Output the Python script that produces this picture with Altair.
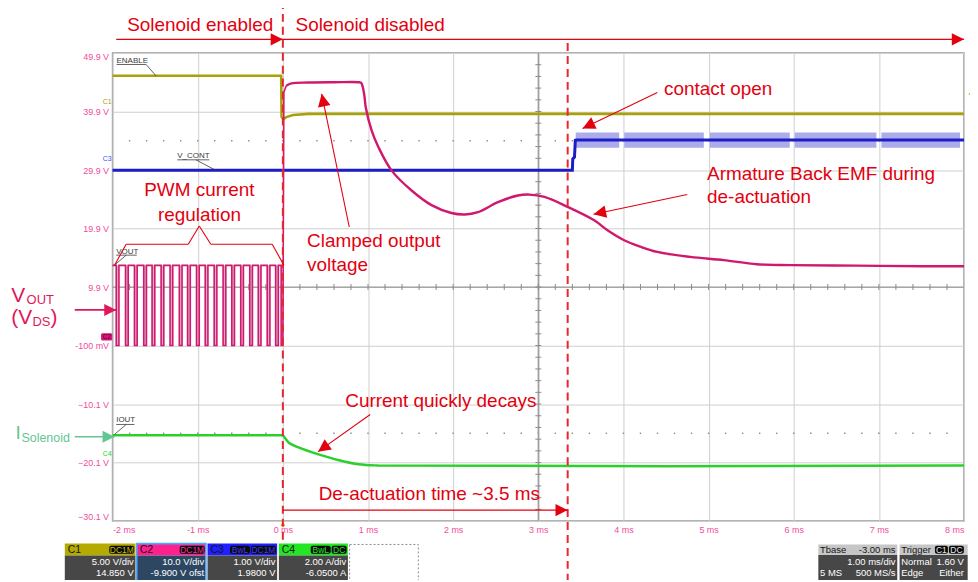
import math
import altair as alt
import pandas as pd

# ---------------- values ----------------
x_tick_values = [-2, -1, 0, 1, 2, 3, 4, 5, 6, 7, 8]
y_tick_values = [-30.1, -20.1, -10.1, -0.1, 9.9, 19.9, 29.9, 39.9, 49.9]

# C1 ENABLE
enable_t = [-2.0, -0.02, -0.015, 0.005, 0.04, 0.12, 0.3, 8.0]
enable_v = [46.0, 46.0, 39.0, 38.6, 38.95, 39.3, 39.5, 39.5]

# C2 VOUT : PWM falling edges (ms) before turn-off
pwm_fall_t = [-1.957, -1.848, -1.743, -1.634, -1.536, -1.430, -1.325, -1.216,
              -1.119, -1.014, -0.912, -0.807, -0.702, -0.600, -0.495, -0.389,
              -0.289, -0.184, -0.085]
pwm_low_ms = 0.032
pwm_high_v = 13.6
pwm_low_v = -0.1
turnoff_fall_t = -0.02

# C2 VOUT after turn-off (clamp + armature back EMF)
vout_t = [0.0, 0.012, 0.04, 0.1, 0.3, 0.6, 0.9, 0.92, 0.94, 0.96, 0.974, 1.044, 1.123,
          1.278, 1.512, 1.746, 1.98, 2.137, 2.292, 2.526, 2.76, 2.897, 3.072, 3.345,
          3.657, 3.813, 4.008, 4.199, 4.398, 4.784, 5.178, 5.567, 5.953, 6.737, 7.517, 8.0]
vout_v = [-0.1, 43.2, 44.3, 44.7, 44.85, 44.9, 44.9, 44.8, 44.0, 42.3, 40.6, 36.6, 33.8,
          29.8, 26.4, 23.9, 22.55, 22.3, 22.7, 24.4, 25.55, 25.7, 25.3, 23.6,
          21.3, 19.6, 17.9, 16.8, 15.9, 15.05, 14.5, 13.8, 13.65, 13.55, 13.45, 13.45]

# C3 V_CONT
vcont_t = [-2.0, 3.40, 3.405, 3.425, 3.435, 3.45, 8.0]
vcont_v = [29.85, 29.85, 31.8, 32.1, 35.0, 35.05, 35.05]
vcont_band_start = [3.44, 4.01, 5.015, 6.012, 7.03]
vcont_band_end = [3.95, 4.944, 5.953, 6.971, 7.953]
vcont_band_lo = 33.7
vcont_band_hi = 36.3

# C4 IOUT
iout_t = [-2.0, 0.0, 0.03, 0.07, 0.19, 0.42, 0.66, 0.89, 1.12, 8.0]
iout_v = [-15.45, -15.45, -16.0, -16.7, -17.55, -18.7, -19.7, -20.4, -20.6, -20.6]

# scope info boxes
chan_names = ["C1", "C2", "C3", "C4"]
chan_vdiv = ["5.00 V/div", "10.0 V/div", "1.00 V/div", "2.00 A/div"]
chan_offset = ["14.850 V", "-9.900 V ofst", "1.9800 V", "-6.0500 A"]
chan_badges = [["DC1M"], ["DC1M"], ["BwL", "DC1M"], ["BwL", "DC"]]
tbase_header = ["Tbase", "-3.00 ms"]
tbase_lines = [["", "1.00 ms/div"], ["5 MS", "500 MS/s"]]
trigger_title = "Trigger"
trigger_badges = ["C1", "DC"]
trigger_lines = [["Normal", "1.60 V"], ["Edge", "Either"]]

# ---------------- layout / style ----------------
W, H = 855, 470
T_MIN, T_MAX = -2.0, 8.0
V_MIN, V_MAX = -30.1, 49.9
PX_T = W / (T_MAX - T_MIN)
PX_V = H / (V_MAX - V_MIN)

FONT = "Liberation Sans"
RED = "#e3000f"
PINK = "#f24c9e"
OLIVE = "#a8a10a"
MAGENTA = "#d0186e"
BLUE = "#1c1cc8"
GREEN = "#2ccf2c"
VOUT_RED = "#e0185a"
ISOL_GREEN = "#63c695"
HEAD = "M0,0 L1,2 L-1,2 Z"

xs = alt.Scale(domain=[T_MIN, T_MAX], nice=False, zero=False)
ys = alt.Scale(domain=[V_MIN, V_MAX], nice=False, zero=False)
x_axis = alt.Axis(values=x_tick_values, labelExpr="datum.value + ' ms'", grid=True,
                  gridColor="#cfcfcf", gridWidth=1, ticks=False, tickSize=0, domain=False,
                  labelColor=PINK, labelFont=FONT, labelFontSize=9, labelPadding=4,
                  labelFlush=True, title=None)
y_axis = alt.Axis(values=y_tick_values,
                  labelExpr="datum.value == -0.1 ? '-100 mV' : format(datum.value, '.1f') + ' V'",
                  grid=True, gridColor="#cfcfcf", gridWidth=1, ticks=False, tickSize=0,
                  domain=False, labelColor=PINK, labelFont=FONT, labelFontSize=9,
                  labelPadding=4, labelFlush=True, title=None)


def X(f="t"):
    return alt.X(f"{f}:Q", scale=xs, axis=x_axis)


def Y(f="v"):
    return alt.Y(f"{f}:Q", scale=ys, axis=y_axis)


def polyline(t, v, color, width, interp="linear"):
    d = pd.DataFrame({"t": t, "v": v, "o": list(range(len(t)))})
    return alt.Chart(d).mark_line(color=color, strokeWidth=width, interpolate=interp).encode(
        x=X(), y=Y(), order=alt.Order("o:Q"))


def segs(rows, color, width=1.2, dash=None):
    d = pd.DataFrame(rows, columns=["t", "v", "t2", "v2"])
    kw = dict(color=color, strokeWidth=width)
    if dash:
        kw["strokeDash"] = dash
    return alt.Chart(d).mark_rule(**kw).encode(x=X(), y=Y(), x2="t2:Q", y2="v2:Q")


def angle(t1, v1, t2, v2):
    return math.degrees(math.atan2((t2 - t1) * PX_T, (v2 - v1) * PX_V)) % 360


def arrows(rows, color, width=1.2, size=150):
    # rows: (t_tail, v_tail, t_tip, v_tip)
    line = segs(rows, color, width)
    hd = pd.DataFrame({"t": [r[2] for r in rows], "v": [r[3] for r in rows],
                       "a": [angle(*r) for r in rows]})
    head = alt.Chart(hd).mark_point(shape=HEAD, filled=True, opacity=1, size=size,
                                    strokeWidth=0, color=color).encode(
        x=X(), y=Y(), angle=alt.Angle("a:Q", scale=None))
    return [line, head]


def texts(rows, size, color, align="left", baseline="alphabetic", weight="normal"):
    d = pd.DataFrame(rows, columns=["t", "v", "txt"])
    return alt.Chart(d).mark_text(align=align, baseline=baseline, font=FONT, fontSize=size,
                                  color=color, fontWeight=weight).encode(
        x=X(), y=Y(), text="txt:N")


def rects(rows, stroke=None, sw=1, dash=None, radius=0, opacity=1.0):
    # rows: (t0, v0, t1, v1, colour)
    d = pd.DataFrame(rows, columns=["t", "v", "t2", "v2", "c"])
    kw = dict(cornerRadius=radius)
    if stroke:
        kw.update(stroke=stroke, strokeWidth=sw, fillOpacity=0)
        if dash:
            kw["strokeDash"] = dash
        return alt.Chart(d).mark_rect(**kw).encode(x=X(), y=Y(), x2="t2:Q", y2="v2:Q")
    kw["opacity"] = opacity
    return alt.Chart(d).mark_rect(**kw).encode(x=X(), y=Y(), x2="t2:Q", y2="v2:Q",
                                              color=alt.Color("c:N", scale=None))


layers = []

# ---- graticule: dotted rows and center cross with small ticks ----
minor_t = [round(T_MIN + 0.2 * i, 3) for i in range(1, 50)]
minor_v = [round(V_MIN + 2.0 * i, 3) for i in range(1, 40)]
dots = pd.DataFrame({"t": minor_t * 2, "v": [34.9] * len(minor_t) + [-15.1] * len(minor_t)})
layers.append(alt.Chart(dots).mark_point(shape="square", filled=True, size=2, opacity=1,
                                         color="#8a8a8a").encode(x=X(), y=Y()))
layers.append(segs([(T_MIN, 9.9, T_MAX, 9.9), (3.0, V_MIN, 3.0, V_MAX)], "#9a9a9a", 1.3))
layers.append(alt.Chart(pd.DataFrame({"t": minor_t, "v": [9.9] * len(minor_t)}))
              .mark_tick(orient="vertical", size=6, thickness=1, color="#8a8a8a", opacity=1)
              .encode(x=X(), y=Y()))
layers.append(alt.Chart(pd.DataFrame({"t": [3.0] * len(minor_v), "v": minor_v}))
              .mark_tick(orient="horizontal", size=6, thickness=1, color="#8a8a8a", opacity=1)
              .encode(x=X(), y=Y()))

# ---- traces ----
layers.append(polyline(iout_t[:2], iout_v[:2], GREEN, 2.5))
layers.append(polyline(iout_t[1:], iout_v[1:], GREEN, 2.5, "catmull-rom"))

band_rows = [(a, vcont_band_lo, b, vcont_band_hi, "#9d9de8")
             for a, b in zip(vcont_band_start, vcont_band_end)]
layers.append(rects(band_rows, opacity=0.85))
layers.append(polyline(vcont_t, vcont_v, BLUE, 3.0))

layers.append(polyline(enable_t, enable_v, OLIVE, 2.6))

pwm_fill = [(f, pwm_low_v, f + pwm_low_ms, pwm_high_v, "#e0abc6") for f in pwm_fall_t]
layers.append(rects(pwm_fill))
pwm_t, pwm_v = [T_MIN], [pwm_high_v]
for f in pwm_fall_t:
    pwm_t += [f, f, f + pwm_low_ms, f + pwm_low_ms]
    pwm_v += [pwm_high_v, pwm_low_v, pwm_low_v, pwm_high_v]
pwm_t += [turnoff_fall_t, turnoff_fall_t] + vout_t[:3]
pwm_v += [pwm_high_v, pwm_low_v] + vout_v[:3]
layers.append(polyline(pwm_t, pwm_v, MAGENTA, 1.6))
layers.append(polyline(vout_t[2:], vout_v[2:], MAGENTA, 2.4, "catmull-rom"))

# ---- trace name labels with leaders ----
layers.append(texts([(-1.953, 48.54, "ENABLE"), (-1.240, 32.37, "V_CONT"),
                     (-1.957, 15.91, "VOUT"), (-1.957, -12.91, "IOUT")],
                    8, "#3a3a3a", baseline="middle"))
layers.append(segs([(-1.953, 47.94, -1.606, 47.94), (-1.606, 47.94, -1.489, 45.99),
                    (-1.240, 31.64, -0.865, 31.64), (-1.021, 31.64, -0.768, 29.70),
                    (-1.957, 15.35, -1.716, 15.35), (-1.840, 15.35, -1.977, 13.64),
                    (-1.957, -13.59, -1.743, -13.59), (-1.840, -13.59, -1.977, -15.29)],
                   "#3a3a3a", 0.8))

# ---- channel markers on the left / trigger markers ----
layers.append(texts([(-2.01, 41.6, "C1")], 7, OLIVE, align="right", baseline="middle"))
layers.append(texts([(-2.01, 31.7, "C3")], 7, "#4a4aff", align="right", baseline="middle"))
layers.append(texts([(-2.01, -18.6, "C4")], 7, GREEN, align="right", baseline="middle"))
layers.append(rects([(-2.135, 0.75, -2.004, 2.0, "#e0107a")], radius=1.5))
layers.append(texts([(-2.07, 1.38, "C2")], 6.5, "#222222", align="center", baseline="middle"))
layers.append(alt.Chart(pd.DataFrame({"t": [8.05], "v": [42.9], "a": [270.0]}))
              .mark_point(shape=HEAD, filled=True, opacity=1, size=30, strokeWidth=0, color=OLIVE)
              .encode(x=X(), y=Y(), angle=alt.Angle("a:Q", scale=None)))
layers.append(alt.Chart(pd.DataFrame({"t": [0.0], "v": [-30.1], "a": [0.0]}))
              .mark_point(shape=HEAD, filled=True, opacity=1, size=25, strokeWidth=0, color="#c8b400")
              .encode(x=X(), y=Y(), angle=alt.Angle("a:Q", scale=None)))

# ---- red dashed markers ----
layers.append(segs([(0.0, 58.8, 0.0, -40.6), (3.345, 51.6, 3.345, -40.6)], "#e8262e", 2,
                   dash=[8, 5]))

# ---- red annotations ----
layers += arrows([(-1.957, 52.23, 0.0, 52.23), (0.0, 52.23, 8.0, 52.23)], RED, 1.4, 150)
layers += arrows([(0.780, 20.16, 0.456, 42.92), (4.398, 43.14, 3.52, 37.0),
                  (4.749, 25.73, 3.649, 22.33), (1.026, -11.89, 0.413, -18.24)], RED, 1.1, 160)
layers += arrows([(0.0, -28.23, 3.345, -28.23)], RED, 1.4, 150)
layers.append(segs([(-1.977, 13.64, -1.840, 17.22), (-1.840, 17.22, -1.111, 17.22),
                    (-1.111, 17.22, -0.982, 20.33), (-0.982, 20.33, -0.846, 17.22),
                    (-0.846, 17.22, -0.125, 17.22), (-0.125, 17.22, 0.012, 13.64)], RED, 1.1))
layers.append(texts([(-1.828, 53.59, "Solenoid enabled"), (0.149, 53.59, "Solenoid disabled"),
                     (0.284, 16.7, "Clamped output"), (0.284, 12.69, "voltage"),
                     (4.476, 42.8, "contact open"), (4.982, 28.18, "Armature Back EMF during"),
                     (4.982, 24.33, "de-actuation"), (0.733, -10.6, "Current quickly decays"),
                     (0.421, -26.5, "De-actuation time ~3.5 ms")], 19, RED))
layers.append(texts([(-0.98, 25.5, "PWM current"), (-0.98, 21.2, "regulation")], 19, RED,
                    align="center"))

# ---- V_OUT (V_DS) and I_Solenoid side labels ----
layers.append(texts([(-3.19, 7.40, "V"), (-3.19, 3.55, "(V")], 21, VOUT_RED))
layers.append(texts([(-3.01, 7.0, "OUT"), (-2.94, 3.25, "DS")], 13, VOUT_RED))
layers.append(texts([(-2.73, 3.55, ")")], 21, VOUT_RED))
layers += arrows([(-2.444, 5.99, -1.957, 5.99)], VOUT_RED, 1.6, 144)
layers.append(texts([(-3.14, -16.02, "I")], 19, ISOL_GREEN))
layers.append(texts([(-3.07, -16.6, "Solenoid")], 12.5, ISOL_GREEN))
layers += arrows([(-2.444, -15.68, -1.977, -15.68)], ISOL_GREEN, 1.6, 144)

# ---- scope information boxes (bottom) ----
chan_box_t0 = [-2.561, -1.716, -0.885, -0.047]
chan_box_t1 = [-1.731, -0.904, -0.067, 0.764]
chan_head = ["#b5ab00", "#ff2090", "#2020ff", "#22e622"]
chan_badge_txt = ["#c8bc00", "#ff2a95", "#3a3aff", "#22e622"]
chan_body = ["#474747", "#2d4763", "#474747", "#474747"]
badge_px = {"DC1M": 25, "BwL": 20, "DC": 15, "C1": 13}
HEAD_TOP, HEAD_BOT, BODY_BOT = -33.95, -36.0, -40.6

box_rows, badge_rows = [], []
head_txt, badge_txt, body_txt = [], [], []
for i, name in enumerate(chan_names):
    a, b = chan_box_t0[i], chan_box_t1[i]
    box_rows.append((a, HEAD_TOP, b, HEAD_BOT, chan_head[i]))
    box_rows.append((a, HEAD_BOT, b, BODY_BOT, chan_body[i]))
    head_txt.append((a + 0.035, -35.0, name))
    right = b - 0.015
    for bd in reversed(chan_badges[i]):
        w = badge_px[bd] / PX_T
        badge_rows.append((right - w, -34.3, right, -35.7, "#0a0a0a"))
        badge_txt.append((right - w / 2, -35.0, bd, chan_badge_txt[i]))
        right -= w + 0.012
    body_txt.append((b - 0.02, -37.05, chan_vdiv[i]))
    body_txt.append((b - 0.02, -38.9, chan_offset[i]))

# timebase & trigger
TB0, TB1, TR0, TR1 = 6.289, 7.216, 7.243, 8.043
box_rows += [(TB0, -34.1, TB1, -35.9, "#c6c6c6"), (TB0, -35.9, TB1, BODY_BOT, "#474747"),
             (TR0, -34.1, TR1, -35.9, "#c6c6c6"), (TR0, -35.9, TR1, BODY_BOT, "#474747")]
tb_head_left = [(TB0 + 0.02, -35.0, tbase_header[0]), (TR0 + 0.02, -35.0, trigger_title)]
tb_head_right = [(TB1 - 0.02, -35.0, tbase_header[1])]
right = TR1 - 0.045
for bd in reversed(trigger_badges):
    w = badge_px[bd] / PX_T
    badge_rows.append((right - w, -34.3, right, -35.7, "#0a0a0a"))
    badge_txt.append((right - w / 2, -35.0, bd, "#e6e6e6"))
    right -= w + 0.012
body_left = [(TB0 + 0.02, -38.9, tbase_lines[1][0]),
             (TR0 + 0.02, -37.05, trigger_lines[0][0]), (TR0 + 0.02, -38.9, trigger_lines[1][0])]
body_txt += [(TB1 - 0.02, -37.05, tbase_lines[0][1]), (TB1 - 0.02, -38.9, tbase_lines[1][1]),
             (TR1 - 0.045, -37.05, trigger_lines[0][1]), (TR1 - 0.045, -38.9, trigger_lines[1][1])]

layers.append(rects(box_rows))
layers.append(rects([(chan_box_t0[1], HEAD_TOP, chan_box_t1[1], BODY_BOT, "")],
                    stroke="#49a8ff", sw=1.6))
layers.append(rects([(0.784, -34.1, 1.591, BODY_BOT, "")], stroke="#8a8a8a", sw=1,
                    dash=[2, 2]))
layers.append(rects(badge_rows, radius=2))
layers.append(texts(head_txt, 10.5, "#141414", baseline="middle"))
layers.append(texts(tb_head_left, 9.5, "#141414", baseline="middle"))
layers.append(texts(tb_head_right, 9.5, "#141414", align="right", baseline="middle"))
bdf = pd.DataFrame(badge_txt, columns=["t", "v", "txt", "c"])
layers.append(alt.Chart(bdf).mark_text(align="center", baseline="middle", font=FONT,
                                       fontSize=8.5).encode(
    x=X(), y=Y(), text="txt:N", color=alt.Color("c:N", scale=None)))
layers.append(texts(body_txt, 9.5, "#ffffff", align="right", baseline="middle"))
layers.append(texts(body_left, 9.5, "#ffffff", baseline="middle"))

chart = alt.layer(*layers).properties(
    width=W, height=H,
    autosize=alt.AutoSizeParams(type="none"),
    padding={"left": 105, "top": 44, "right": 6, "bottom": 58},
    background="#ffffff",
).configure_view(stroke="#9a9a9a", strokeWidth=1.5)

chart.save("out.html", embed_options={"renderer": "svg", "actions": False})
